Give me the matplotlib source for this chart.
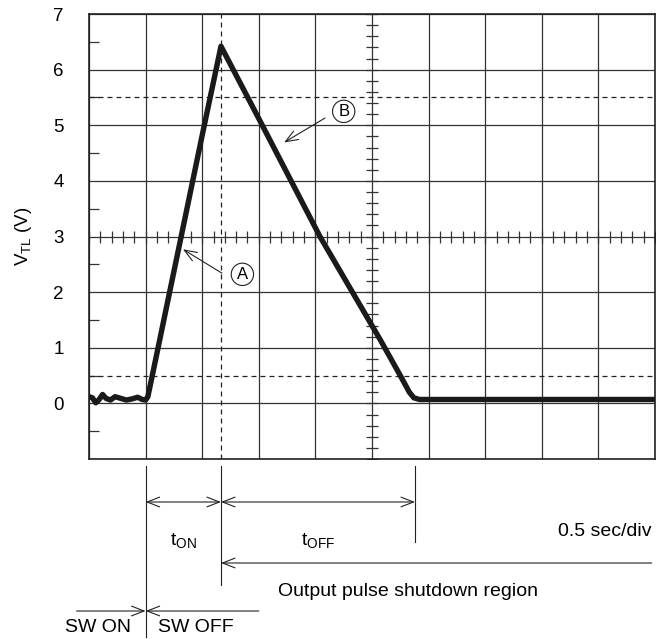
import numpy as np
import matplotlib
matplotlib.use("Agg")
import matplotlib.pyplot as plt
from matplotlib import transforms

plt.rcParams['font.family'] = ['Liberation Sans', 'DejaVu Sans']
plt.rcParams['mathtext.fontset'] = 'custom'
plt.rcParams['mathtext.rm'] = 'Liberation Sans'
plt.rcParams['mathtext.it'] = 'Liberation Sans:italic'

# ---- data (time in seconds, 0.5 s/div ; voltage V_TL in volts) ----
time_s = [0.000, 0.030, 0.060, 0.090, 0.120, 0.150, 0.190, 0.230, 0.280,
          0.330, 0.380, 0.430, 0.470, 0.500, 0.520, 0.600, 0.800, 1.000,
          1.166, 1.500, 2.040, 2.571, 2.750, 2.830, 2.870, 2.920, 3.500,
          4.500, 5.000]
vtl_v = [0.12, 0.10, 0.01, 0.07, 0.16, 0.09, 0.06, 0.12, 0.09,
         0.06, 0.08, 0.11, 0.07, 0.06, 0.12, 0.90, 2.86, 4.82,
         6.42, 5.12, 3.00, 1.15, 0.50, 0.20, 0.10, 0.07, 0.07,
         0.07, 0.07]

y_ticks = [0, 1, 2, 3, 4, 5, 6, 7]
y_tick_labels = ["0", "1", "2", "3", "4", "5", "6", "7"]
x_range = [0.0, 5.0]
y_range = [-1.0, 7.0]
dashed_levels = [0.5, 5.5]
t_sw_on = 0.5        # switch opened (start of t_ON)
t_sw_off = 1.166     # peak / end of t_ON
t_off_end = 2.88     # end of t_OFF

label_A = "A"
label_B = "B"

# ---- figure ----
W, H = 656, 639
fig = plt.figure(figsize=(W / 100, H / 100), dpi=100)
ax = fig.add_axes([89 / W, 1 - 459 / H, (655 - 89) / W, (459 - 14) / H])
ax.set_xlim(*x_range)
ax.set_ylim(*y_range)

grid_c = '#333333'
ax.set_xticks(np.arange(0, 5.01, 0.5))
ax.set_yticks(np.arange(-1, 7.01, 1))
ax.set_yticklabels([""] + y_tick_labels)
ax.set_xticklabels([])
ax.tick_params(axis='x', length=0)
ax.tick_params(axis='y', which='major', length=0, pad=18, labelsize=13.5)
ax.set_yticks(np.arange(-0.5, 7, 1), minor=True)
ax.tick_params(axis='y', which='minor', direction='in', length=7.5,
               width=0.9, color=grid_c)
ax.grid(True, color=grid_c, lw=0.9)
for s in ax.spines.values():
    s.set_linewidth(1.2)
    s.set_color('#222222')

# centre graticule ticks
ax.plot(np.full(41, 2.5), np.linspace(-1, 7, 41), ls='none', marker='_',
        ms=8, mew=0.9, color=grid_c, zorder=2)
ax.plot(np.linspace(0, 5, 51), np.full(51, 3.0), ls='none', marker='|',
        ms=8, mew=0.9, color=grid_c, zorder=2)

# dashed reference lines
for lv in dashed_levels:
    ax.axhline(lv, color='#222222', lw=0.9, ls=(0, (4, 3.2)), zorder=2)
ax.axvline(t_sw_off, color='#222222', lw=0.9, ls=(0, (4, 3.2)), zorder=2)

# waveform
ax.plot(time_s, vtl_v, color='#1a1a1a', lw=3.9, solid_joinstyle='round',
        solid_capstyle='round', zorder=5)

ax.set_ylabel(r"$\mathregular{V_{TL}}$ (V)", fontsize=13.5)
ax.yaxis.set_label_coords(-0.098, 0.5)

# circled labels with arrows
circ = dict(boxstyle='circle,pad=0.22', fc='white', ec='#222222', lw=0.8)
arr = dict(arrowstyle='->,head_length=0.9,head_width=0.35', lw=0.8,
           color='#222222', shrinkA=0, shrinkB=0)
ax.annotate('', xy=(0.830, 2.77), xytext=(1.175, 2.34), arrowprops=arr,
            zorder=6)
ax.text(1.355, 2.32, label_A, ha='center', va='center', fontsize=12,
        bbox=circ, zorder=7)
ax.annotate('', xy=(1.723, 4.69), xytext=(2.085, 5.13), arrowprops=arr,
            zorder=6)
ax.text(2.250, 5.25, label_B, ha='center', va='center', fontsize=12,
        bbox=circ, zorder=7)

# ---- annotations below the plot ----
tr = transforms.blended_transform_factory(ax.transData, fig.transFigure)


def fy(py):
    return 1 - py / H


lc = '#222222'
for tx, y_end in [(t_sw_on, 637), (t_sw_off, 585), (t_off_end, 542)]:
    ax.plot([tx, tx], [fy(466), fy(y_end)], transform=tr, color=lc, lw=0.8,
            clip_on=False)

darr = dict(arrowstyle='<->,head_length=0.9,head_width=0.35', lw=0.8,
            color=lc, shrinkA=0, shrinkB=0)
sarr = dict(arrowstyle='->,head_length=0.9,head_width=0.35', lw=0.8,
            color=lc, shrinkA=0, shrinkB=0)
ax.annotate('', xy=(t_sw_off, fy(502)), xytext=(t_sw_on, fy(502)),
            xycoords=tr, textcoords=tr, arrowprops=darr, annotation_clip=False)
ax.annotate('', xy=(t_off_end, fy(502)), xytext=(t_sw_off, fy(502)),
            xycoords=tr, textcoords=tr, arrowprops=darr, annotation_clip=False)
ax.annotate('', xy=(t_sw_off, fy(563)), xytext=(4.97, fy(563)),
            xycoords=tr, textcoords=tr, arrowprops=sarr, annotation_clip=False)
ax.annotate('', xy=(t_sw_on, fy(611)), xytext=(-0.11, fy(611)),
            xycoords=tr, textcoords=tr, arrowprops=sarr, annotation_clip=False)
ax.annotate('', xy=(t_sw_on, fy(611)), xytext=(1.50, fy(611)),
            xycoords=tr, textcoords=tr, arrowprops=sarr, annotation_clip=False)

fs = 14
ax.text((t_sw_on + t_sw_off) / 2, fy(540), r"t$\mathregular{_{ON}}$",
        transform=tr, ha='center', va='center', fontsize=fs)
ax.text((t_sw_off + t_off_end) / 2, fy(540), r"t$\mathregular{_{OFF}}$",
        transform=tr, ha='center', va='center', fontsize=fs)
ax.text(0.993, fy(531), "0.5 sec/div", transform=fig.transFigure,
        ha='right', va='center', fontsize=fs)
ax.text(t_sw_off + 0.50, fy(591), "Output pulse shutdown region",
        transform=tr, ha='left', va='center', fontsize=fs)
ax.text(t_sw_on - 0.13, fy(628), "SW ON", transform=tr, ha='right',
        va='center', fontsize=fs)
ax.text(t_sw_on + 0.11, fy(628), "SW OFF", transform=tr, ha='left',
        va='center', fontsize=fs)

fig.savefig("out.png", dpi=100)
